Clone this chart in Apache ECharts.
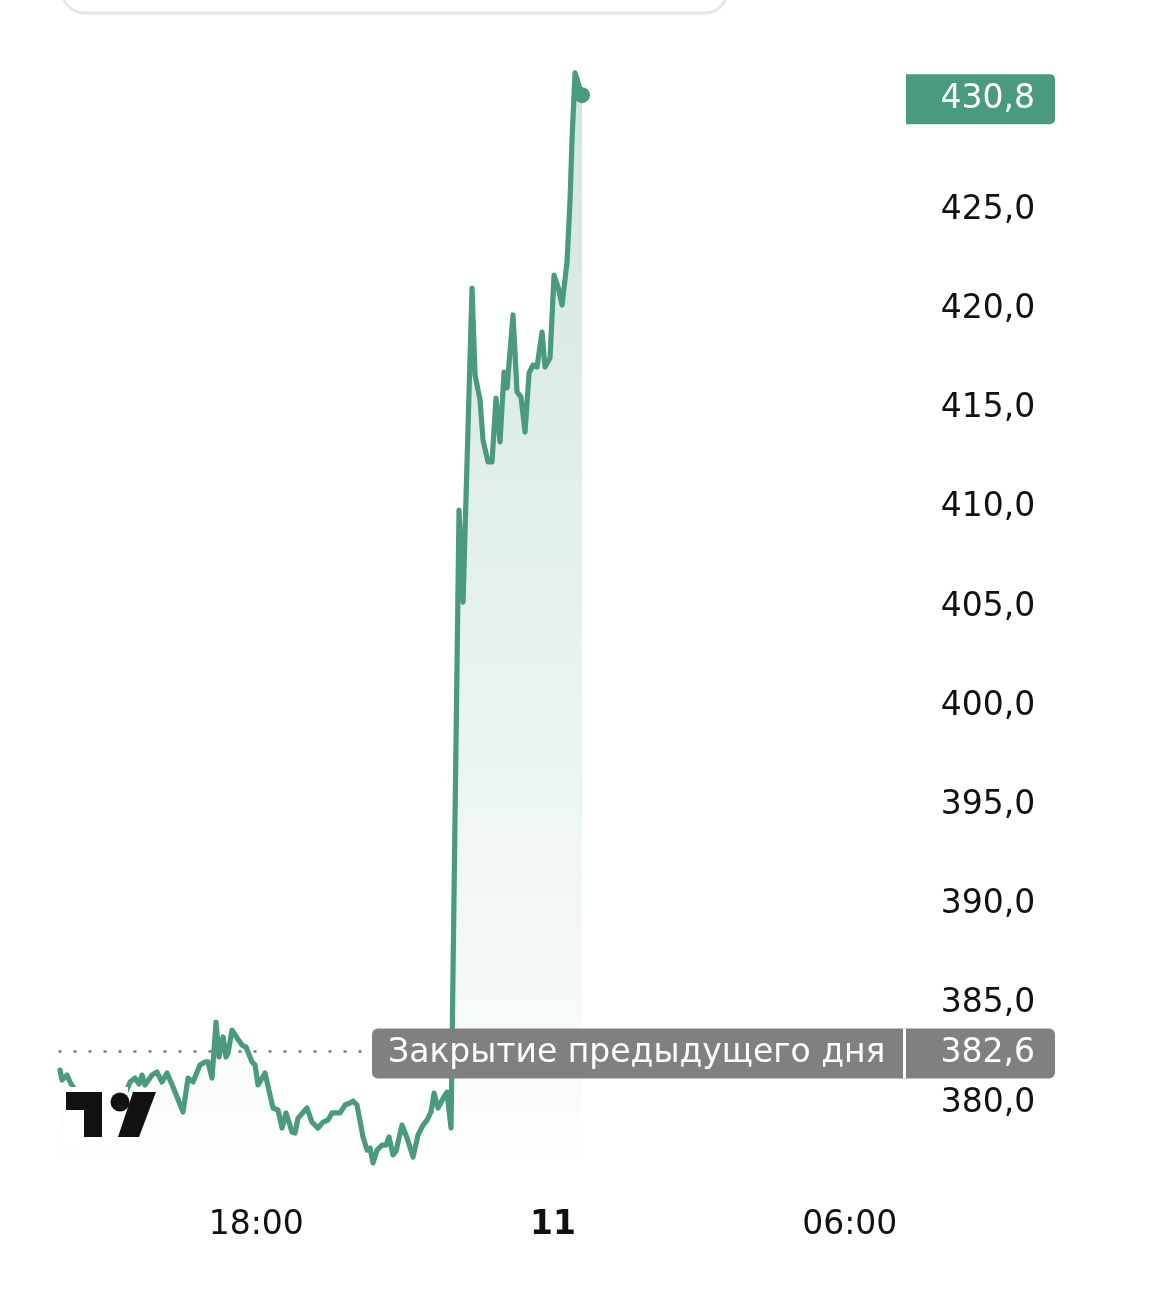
<!DOCTYPE html>
<html><head><meta charset="utf-8">
<script src="https://cdn.jsdelivr.net/npm/echarts@6/dist/echarts.min.js"></script>
<style>html,body{margin:0;padding:0;background:#fff}#c{width:1170px;height:1299px}</style>
</head><body><div id="c"></div>
<script>
// time in hours relative to midnight (0 = start of day "11")
const hours = [-9.970,-9.929,-9.828,-9.767,-9.606,-9.363,-9.059,-8.797,-8.615,-8.554,-8.453,-8.372,-8.311,-8.251,-8.109,-8.008,-7.907,-7.806,-7.684,-7.482,-7.381,-7.280,-7.139,-7.037,-6.977,-6.896,-6.815,-6.754,-6.673,-6.613,-6.572,-6.491,-6.390,-6.289,-6.208,-6.087,-6.026,-5.966,-5.824,-5.662,-5.561,-5.480,-5.399,-5.278,-5.217,-5.157,-4.975,-4.874,-4.752,-4.651,-4.550,-4.469,-4.307,-4.206,-4.105,-4.044,-3.964,-3.842,-3.761,-3.701,-3.640,-3.559,-3.458,-3.377,-3.316,-3.236,-3.175,-3.054,-2.952,-2.831,-2.730,-2.629,-2.548,-2.467,-2.406,-2.326,-2.184,-2.144,-2.063,-1.901,-1.820,-1.638,-1.577,-1.476,-1.416,-1.314,-1.234,-1.153,-1.072,-0.991,-0.930,-0.809,-0.728,-0.647,-0.566,-0.485,-0.404,-0.324,-0.222,-0.162,-0.061,0.020,0.101,0.182,0.283,0.344,0.384,0.445,0.586];
const prices = [381.66,381.16,381.41,381.06,380.40,380.05,380.25,380.15,380.66,381.06,381.26,380.96,381.41,380.91,381.41,381.56,381.06,381.51,380.81,379.55,381.26,381.06,381.92,382.07,382.07,381.26,384.08,382.32,383.33,382.32,382.52,383.68,383.28,382.92,382.82,382.07,381.92,380.91,381.51,379.75,379.65,378.74,379.50,378.54,378.49,379.24,379.75,379.04,378.74,379.04,379.14,379.50,379.50,379.90,380.00,380.10,379.90,378.29,377.63,377.73,376.98,377.63,377.88,377.88,378.29,377.38,377.58,378.89,378.24,377.28,378.39,378.89,379.14,379.55,380.50,379.75,380.40,380.55,378.74,409.89,405.25,421.08,416.69,415.43,413.42,412.31,412.31,415.53,413.32,416.84,416.04,419.72,415.84,415.58,413.82,416.79,417.20,417.10,418.86,417.10,417.55,421.73,421.13,420.22,422.39,425.51,428.54,431.92,430.80];
const prevClose = 382.6;
const prevCloseLabel = 'Закрытие предыдущего дня';
const yTickValues = [380,385,390,395,400,405,410,415,420,425,430];
const xTickValues = [-6,0,6];
const xTickLabels = ['18:00','11','06:00'];

const GREEN = '#4a9a80';
const FONT = '"DejaVu Sans", sans-serif';
const FS = 33;
const fmt = v => v.toFixed(1).replace('.', ',');

const chart = echarts.init(document.getElementById('c'), null, {renderer:'canvas'});
const data = hours.map((h,i) => i === hours.length-1
  ? {value:[h, prices[i]], symbol:'circle', symbolSize:16, itemStyle:{color:GREEN}}
  : [h, prices[i]]);
const lastPrice = prices[prices.length-1];

chart.setOption({
  backgroundColor:'#fff',
  animation:false,
  grid:{left:58.5, right:270.8, top:51.5, bottom:116.6},
  xAxis:{type:'value', min:-10, max:7,
    axisLine:{show:false}, axisTick:{show:false}, splitLine:{show:false},
    axisLabel:{customValues:xTickValues, margin:27, color:'#111', fontSize:FS, fontFamily:FONT,
      formatter:v => { const i = xTickValues.indexOf(v); const t = i>=0 ? xTickLabels[i] : ''; return v===0 ? '{b|'+t+'}' : t; },
      rich:{b:{fontWeight:'bold', fontSize:FS, fontFamily:FONT, color:'#111'}}}},
  yAxis:{type:'value', position:'right', min:376, max:433, scale:true,
    axisLine:{show:false}, axisTick:{show:false}, splitLine:{show:false},
    axisLabel:{customValues:yTickValues, align:'right', margin:136, color:'#111', fontSize:FS, fontFamily:FONT, formatter:fmt}},
  series:[{
    type:'line', data:data, symbol:'none', showSymbol:true, showAllSymbol:true,
    lineStyle:{color:GREEN, width:5.2, join:'round', cap:'round'},
    itemStyle:{color:GREEN},
    areaStyle:{origin:'start', color:new echarts.graphic.LinearGradient(0,0,0,1,[
      {offset:0, color:'rgba(74,154,128,0.36)'},
      {offset:0.85, color:'rgba(74,154,128,0.07)'},
      {offset:1, color:'rgba(74,154,128,0.0)'}])},
    markLine:{silent:true, symbol:'none', label:{show:false},
      lineStyle:{color:'#7a7a7a', type:[3,12], width:2.5},
      data:[{yAxis:prevClose}]},
    z:3
  }]
});

const yPrev = chart.convertToPixel({yAxisIndex:0}, prevClose) + 2;
const yLast = chart.convertToPixel({yAxisIndex:0}, lastPrice) + 4;
chart.setOption({graphic:[
  {type:'rect', shape:{x:62,y:-40,width:665,height:53,r:22}, style:{fill:'#fff', stroke:'#e6e6e6', lineWidth:3}, z:50},
  {type:'rect', shape:{x:372,y:yPrev-25,width:683,height:50,r:6}, style:{fill:'#808080'}, z:100},
  {type:'rect', shape:{x:903,y:yPrev-25,width:3,height:50}, style:{fill:'#ffffff'}, z:101},
  {type:'text', x:388, y:yPrev, style:{text:prevCloseLabel, fill:'#fff', font:FS+'px '+FONT, verticalAlign:'middle'}, z:102},
  {type:'text', x:1035, y:yPrev, style:{text:fmt(prevClose), fill:'#fff', font:FS+'px '+FONT, align:'right', verticalAlign:'middle'}, z:102},
  {type:'rect', shape:{x:906,y:yLast-25,width:149,height:50,r:[0,5,5,0]}, style:{fill:GREEN}, z:100},
  {type:'text', x:1035, y:yLast, style:{text:fmt(lastPrice), fill:'#fff', font:FS+'px '+FONT, align:'right', verticalAlign:'middle'}, z:102},
  // TradingView logo with its white backing
  {type:'rect', shape:{x:64,y:1087,width:64,height:56}, style:{fill:'#fff'}, z:99},
  {type:'polygon', shape:{points:[[66,1092],[102,1092],[102,1137],[84,1137],[84,1110],[66,1110]]}, style:{fill:'#111'}, z:100},
  {type:'circle', shape:{cx:120,cy:1102,r:9.5}, style:{fill:'#111'}, z:100},
  {type:'polygon', shape:{points:[[133,1092],[156,1092],[139,1137],[118,1137]]}, style:{fill:'#111'}, z:100}
]});
</script></body></html>
